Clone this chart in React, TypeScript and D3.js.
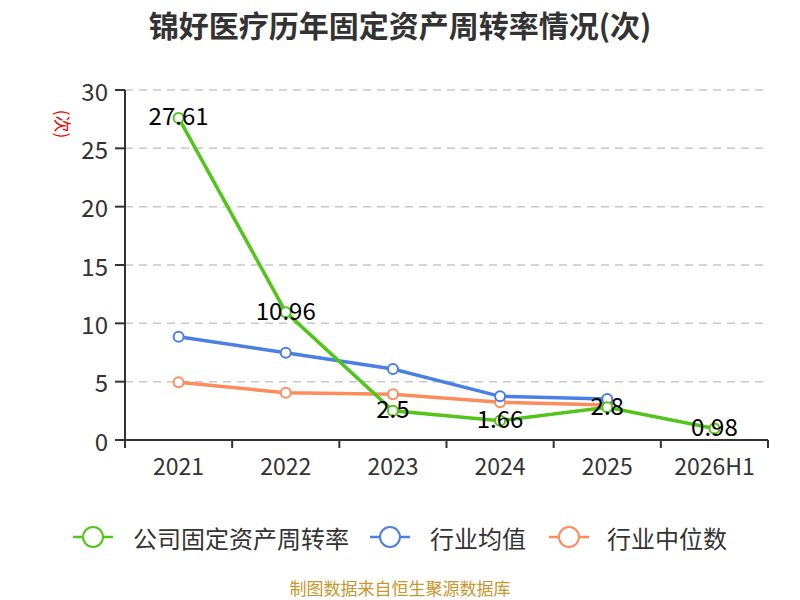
import React from "react";
import * as d3 from "d3";

const categories = ["2021", "2022", "2023", "2024", "2025", "2026H1"];
const companyValues = [27.61, 10.96, 2.5, 1.66, 2.8, 0.98];
const industryAvg = [8.85, 7.48, 6.08, 3.74, 3.51];
const industryMedian = [4.95, 4.05, 3.92, 3.23, 3.0];
const yTicks = [0, 5, 10, 15, 20, 25, 30];

const seriesList = [
  { name: "公司固定资产周转率", values: companyValues, color: "#52c41a", labels: true },
  { name: "行业均值", values: industryAvg, color: "#4a7fe3", labels: false },
  { name: "行业中位数", values: industryMedian, color: "#fd8c5c", labels: false },
];

const FONT = "'Noto Sans CJK SC', 'Noto Sans', sans-serif";

const App: React.FC = () => {
  const width = 800;
  const height = 600;
  const left = 125;
  const right = 768;
  const top = 90;
  const bottom = 440;

  const x = d3.scaleBand<string>().domain(categories).range([left, right]);
  const y = d3.scaleLinear().domain([0, 30]).range([bottom, top]);
  const cx = (c: string) => (x(c) ?? 0) + x.bandwidth() / 2;

  const line = d3
    .line<number>()
    .x((_, i) => cx(categories[i]))
    .y((d) => y(d));

  // legend item positions (icon center, text start)
  const legendItems = [
    { icon: 93, text: 133 },
    { icon: 390, text: 430 },
    { icon: 569, text: 607 },
  ];
  const legendY = 537;

  return (
    <svg
      width={width}
      height={height}
      style={{ position: "absolute", left: 0, top: 0, background: "#fff" }}
      fontFamily={FONT}
    >
      {/* title */}
      <text
        x={400}
        y={24}
        textAnchor="middle"
        dominantBaseline="central"
        fontSize={30}
        fontWeight="bold"
        fill="#333"
      >
        锦好医疗历年固定资产周转率情况(次)
      </text>

      {/* y-axis name */}
      <text
        transform={`translate(63,124) rotate(90)`}
        textAnchor="middle"
        dominantBaseline="central"
        fontSize={17}
        fill="#e00"
      >
        (次)
      </text>

      {/* grid lines */}
      {yTicks
        .filter((t) => t > 0)
        .map((t) => (
          <line
            key={t}
            x1={left}
            x2={right}
            y1={y(t)}
            y2={y(t)}
            stroke="#c8c8c8"
            strokeWidth={1.5}
            strokeDasharray="8,6"
          />
        ))}

      {/* y axis */}
      <line x1={left} x2={left} y1={top} y2={bottom} stroke="#333" strokeWidth={2} />
      {yTicks.map((t) => (
        <g key={t}>
          <line x1={left - 10} x2={left} y1={y(t)} y2={y(t)} stroke="#333" strokeWidth={2} />
          <text
            x={left - 17}
            y={y(t)}
            textAnchor="end"
            dominantBaseline="central"
            fontSize={24}
            fill="#333"
          >
            {t}
          </text>
        </g>
      ))}

      {/* x axis */}
      <line x1={left} x2={right} y1={bottom} y2={bottom} stroke="#333" strokeWidth={2} />
      {[...categories.map((c) => x(c) ?? 0), right].map((p, i) => (
        <line key={i} x1={p} x2={p} y1={bottom} y2={bottom + 8} stroke="#333" strokeWidth={2} />
      ))}
      {categories.map((c) => (
        <text
          key={c}
          x={cx(c)}
          y={465}
          textAnchor="middle"
          dominantBaseline="central"
          fontSize={23}
          fill="#333"
        >
          {c}
        </text>
      ))}

      {/* series lines + markers (drawn in reverse so company line is on top) */}
      {[...seriesList].reverse().map((s) => (
        <g key={s.name}>
          <path d={line(s.values) ?? ""} fill="none" stroke={s.color} strokeWidth={3.5} />
          {s.values.map((v, i) => (
            <circle
              key={i}
              cx={cx(categories[i])}
              cy={y(v)}
              r={5}
              fill="#fff"
              stroke={s.color}
              strokeWidth={2}
            />
          ))}
        </g>
      ))}

      {/* data labels */}
      {seriesList
        .filter((s) => s.labels)
        .map((s) =>
          s.values.map((v, i) => (
            <text
              key={s.name + i}
              x={cx(categories[i])}
              y={y(v) - 3}
              textAnchor="middle"
              dominantBaseline="central"
              fontSize={24}
              fill="#000"
            >
              {v}
            </text>
          ))
        )}

      {/* legend */}
      {seriesList.map((s, i) => (
        <g key={s.name}>
          <line
            x1={legendItems[i].icon - 20}
            x2={legendItems[i].icon + 20}
            y1={legendY}
            y2={legendY}
            stroke={s.color}
            strokeWidth={2.5}
          />
          <circle
            cx={legendItems[i].icon}
            cy={legendY}
            r={10}
            fill="#fff"
            stroke={s.color}
            strokeWidth={2}
          />
          <text
            x={legendItems[i].text}
            y={legendY}
            dominantBaseline="central"
            fontSize={24}
            fill="#333"
          >
            {s.name}
          </text>
        </g>
      ))}

      {/* source */}
      <text
        x={400}
        y={587}
        textAnchor="middle"
        dominantBaseline="central"
        fontSize={17}
        fill="#c8962a"
      >
        制图数据来自恒生聚源数据库
      </text>
    </svg>
  );
};

export default App;
